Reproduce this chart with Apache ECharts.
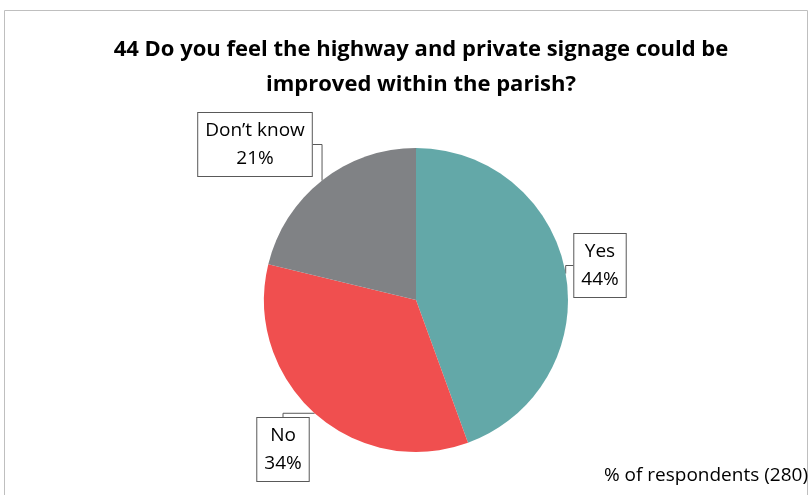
<!DOCTYPE html>
<html>
<head>
<meta charset="utf-8">
<script src="https://cdn.jsdelivr.net/npm/echarts@6/dist/echarts.min.js"></script>
<style>
  html, body { margin: 0; padding: 0; background: #fff; }
  #chart { width: 810px; height: 495px; }
</style>
</head>
<body>
<div id="chart"></div>
<script>
const categories = ['Yes', 'No', 'Don\u2019t know']
const shares = [44, 34, 21]
const colors = ['#63a8a8', '#f04f4f', '#808285']

// where each callout box sits (centre x, top y of the box)
const labelSpots = [
  { x: 600, y: 234 },
  { x: 283, y: 418 },
  { x: 255, y: 113 }
]

const chart = echarts.init(document.getElementById('chart'))
chart.setOption({
  animation: false,
  textStyle: { fontFamily: 'Open Sans' },
  graphic: [
    {
      type: 'rect',
      shape: { x: 4.5, y: 10.5, width: 803, height: 500 },
      style: { fill: 'none', stroke: '#bfbfbf', lineWidth: 1 }
    },
    {
      type: 'text',
      right: 2,
      top: 466,
      style: { text: '% of respondents (280)', fontSize: 19, fill: '#000', fontFamily: 'Open Sans' }
    }
  ],
  title: {
    text: '44 Do you feel the highway and private signage could be\nimproved within the parish?',
    left: 416,
    textAlign: 'center',
    top: 27,
    textStyle: { fontSize: 22, fontWeight: 'bold', color: '#000', lineHeight: 35, fontFamily: 'Open Sans' }
  },
  series: [{
    type: 'pie',
    center: [416, 300],
    radius: 152,
    startAngle: 90,
    clockwise: true,
    data: categories.map((name, i) => ({ name, value: shares[i], itemStyle: { color: colors[i] } })),
    label: {
      show: true,
      formatter: p => p.name + '\n' + p.value + '%',
      fontSize: 19,
      color: '#000',
      lineHeight: 28,
      align: 'center',
      backgroundColor: '#fff',
      borderColor: '#595959',
      borderWidth: 1,
      padding: [4, 7, 3, 7]
    },
    labelLine: {
      show: true,
      lineStyle: { color: '#595959', width: 1 }
    },
    labelLayout: params => {
      const s = labelSpots[params.dataIndex]
      return { x: s.x, y: s.y, align: 'center', verticalAlign: 'top' }
    }
  }]
})
</script>
</body>
</html>
